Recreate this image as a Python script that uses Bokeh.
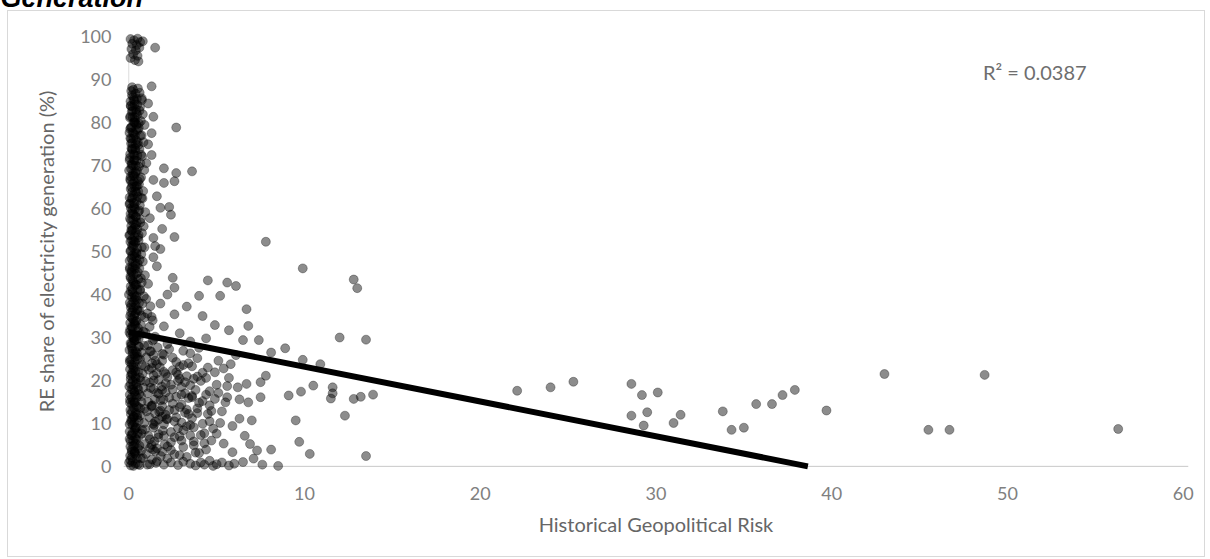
from bokeh.plotting import figure
from bokeh.models import Span, Label, ColumnDataSource, FixedTicker, Range1d
from bokeh.embed import file_html
from bokeh.resources import INLINE

# ---------------- data ----------------
x_ticks = [0, 10, 20, 30, 40, 50, 60]
y_ticks = [0, 10, 20, 30, 40, 50, 60, 70, 80, 90, 100]

# dense column of observations near zero risk
col_a_x = [0.12,0.21,0.08,0.17,0.26,0.10,0.19,0.05,0.23,0.14,
           0.28,0.09,0.18,0.24,0.06,0.15,0.27,0.11,0.20,0.07,
           0.25,0.13,0.22,0.04,0.16,0.29,0.10,0.19,0.08,0.24,
           0.13,0.27,0.06,0.18,0.21,0.11,0.26,0.09,0.15,0.23,
           0.05,0.20,0.12,0.28,0.17,0.07,0.22,0.14,0.25,0.10,
           0.19,0.04,0.16,0.27,0.11,0.21,0.08,0.24,0.13,0.18,
           0.06,0.26,0.15,0.20,0.09,0.23,0.12,0.28,0.07,0.17,
           0.22,0.10,0.25,0.14,0.19]
col_a_y = [0.2,1.1,2.5,3.4,4.8,5.9,7.2,8.1,9.6,10.8,
           11.7,13.1,14.4,15.2,16.7,17.9,18.8,20.3,21.4,22.6,
           23.5,24.9,26.2,27.1,28.6,29.8,30.7,32.2,33.4,34.3,
           35.8,36.9,38.1,39.4,40.5,41.9,43.0,44.2,45.5,46.4,
           47.9,49.1,50.2,51.6,52.7,53.9,55.1,56.0,57.4,58.8,
           59.7,61.1,62.3,63.2,64.6,65.8,66.9,68.2,69.3,70.5,
           71.8,72.7,74.1,75.3,76.4,77.8,78.9,80.1,81.2,82.6,
           83.7,85.0,86.1,87.4,88.3]

col_b_x = [0.38,0.47,0.33,0.52,0.41,0.36,0.50,0.44,0.31,0.49,
           0.40,0.54,0.35,0.46,0.32,0.51,0.43,0.37,0.53,0.42,
           0.34,0.48,0.39,0.55,0.30,0.45,0.50,0.36,0.44,0.33,
           0.52,0.40,0.47,0.31,0.49,0.38,0.54,0.42,0.35,0.51,
           0.43,0.32,0.48,0.37,0.53,0.41,0.34,0.46,0.39,0.55,
           0.30,0.45,0.50,0.36,0.43,0.52,0.33,0.47,0.40,0.31,
           0.49,0.38,0.54,0.42,0.35,0.51,0.44,0.37,0.48,0.41,
           0.33,0.46,0.39,0.52]
col_b_y = [0.6,1.8,3.0,4.1,5.3,6.6,7.7,9.0,10.2,11.3,
           12.5,13.8,14.9,16.1,17.3,18.4,19.6,20.9,22.0,23.1,
           24.3,25.6,26.8,27.9,29.2,30.3,31.5,32.8,33.9,35.1,
           36.3,37.5,38.7,39.9,41.1,42.4,43.6,44.8,46.0,47.2,
           48.5,49.6,50.8,52.1,53.3,54.5,55.6,56.8,58.1,59.3,
           60.4,61.7,62.9,64.0,65.2,66.4,67.6,68.8,70.0,71.2,
           72.4,73.5,74.8,76.0,77.1,78.3,79.6,80.7,81.9,83.1,
           84.3,85.6,86.8,88.0]

col_c_x = [0.62,0.81,0.70,0.93,0.58,0.76,0.87,0.66,0.90,0.73,
           0.59,0.84,0.68,0.79,0.95,0.64,0.72,0.88,0.57,0.83,
           0.69,0.91,0.61,0.77,0.86,0.65,0.74,0.92,0.60,0.80,
           0.71,0.89,0.56,0.75,0.85,0.67,0.94,0.63,0.78,0.82,
           0.58,0.70,0.88,0.66,0.76,0.61,0.84,0.73,0.57,0.69,
           0.80,0.64,0.75,0.62]
col_c_y = [0.3,1.9,3.6,5.2,6.9,8.5,10.1,11.9,13.4,15.0,
           16.8,18.3,20.0,21.6,23.2,24.9,26.5,28.1,29.8,31.4,
           33.0,34.7,36.2,37.9,39.6,41.2,42.8,44.5,46.1,47.7,
           49.4,51.0,52.6,54.3,55.9,57.5,59.2,60.8,62.4,64.1,
           65.7,67.3,69.0,70.6,72.2,73.9,75.5,77.1,78.8,80.4,
           82.0,83.7,85.3,87.0]

col_d_x = [1.05,1.32,0.98,1.21,1.45,1.12,0.93,1.38,1.17,1.02,
           1.29,1.48,1.08,1.24,0.96,1.41,1.15,1.33,1.00,1.26,
           1.10,1.44,0.95,1.19,1.36,1.06,1.23,0.99]
col_d_y = [0.4,1.6,2.9,4.3,5.8,7.1,8.6,9.9,11.4,12.8,
           14.1,15.6,17.0,18.3,19.8,21.2,22.5,24.0,25.4,26.8,
           28.2,29.6,31.1,32.5,34.0,35.6,37.3,39.0]

col_e_x = [0.02,0.18,0.31,0.09,0.25,0.14,0.34,0.05,0.21,0.12,
           0.29,0.07,0.16,0.33,0.03,0.23,0.11,0.27,0.15,0.06,
           0.32,0.19,0.10,0.26,0.04,0.17,0.30,0.08,0.22,0.13,
           0.35,0.01,0.20,0.28,0.11,0.16,0.06,0.24,0.33,0.09,
           0.18,0.27,0.03,0.14,0.31,0.07,0.22,0.12,0.29,0.05,
           0.19,0.34,0.10,0.25,0.02,0.15,0.30,0.08,0.21,0.13,
           0.26,0.04,0.17,0.32,0.09,0.23,0.11,0.28]
col_e_y = [0.9,2.1,3.5,4.6,6.0,7.3,8.5,9.8,11.1,12.2,
           13.6,14.8,16.0,17.4,18.6,19.9,21.1,22.4,23.7,24.8,
           26.1,27.5,28.7,29.9,31.2,32.5,33.7,35.0,36.2,37.6,
           38.8,40.0,41.3,42.6,43.8,45.1,46.3,47.6,48.8,50.1,
           51.4,52.5,53.8,55.0,56.4,57.7,58.9,60.1,61.4,62.6,
           63.9,65.1,66.5,67.7,68.9,70.2,71.4,72.7,73.9,75.2,
           76.4,77.7,79.0,80.2,81.5,82.8,84.0,85.4]

col_f_x = [1.55,1.82,1.38,2.05,1.67,1.94,1.46,2.15,1.73,1.35,
           1.98,1.60,1.88,1.42,2.10,1.77,1.51,1.91,1.64,1.36]
col_f_y = [0.8,2.4,3.9,5.1,6.7,8.3,9.6,11.0,12.7,14.2,
           15.5,17.1,18.6,20.0,21.5,23.1,24.6,26.2,27.7,29.3]

col_g_x = [0.27,0.09,0.41,0.16,0.33,0.05,0.22,0.38,0.13,0.30,
           0.19,0.44,0.07,0.35,0.24,0.11,0.40,0.17,0.29,0.06,
           0.36,0.21,0.14,0.43,0.26,0.08,0.32,0.18,0.39,0.12,
           0.25,0.45,0.10,0.34,0.20,0.28,0.06,0.37,0.15,0.42,
           0.23,0.09,0.31,0.17,0.40,0.13,0.27,0.35,0.07,0.21,
           0.44,0.16,0.30,0.11,0.38,0.24,0.05,0.33,0.19,0.41,
           0.14,0.28,0.08,0.36,0.22,0.43,0.12,0.32,0.18,0.26]
col_g_y = [0.1,1.4,2.8,3.9,5.1,6.4,7.8,8.9,10.3,11.5,
           12.8,14.0,15.5,16.6,17.9,19.2,20.5,21.7,23.0,24.3,
           25.5,26.9,28.1,29.4,30.6,31.9,33.2,34.6,35.7,37.0,
           38.3,39.6,40.8,42.1,43.4,44.6,45.9,47.3,48.4,49.8,
           51.0,52.3,53.5,54.8,56.2,57.3,58.6,60.0,61.2,62.5,
           63.7,65.0,66.3,67.5,68.6,70.1,71.3,72.5,73.8,75.0,
           76.3,77.5,78.6,80.0,81.3,82.4,83.9,85.2,86.4,87.7]

col_h_x = [0.52,0.68,0.35,0.61,0.44,0.73,0.39,0.57,0.48,0.65,
           0.31,0.70,0.55,0.42,0.63,0.37,0.75,0.50,0.46,0.59,
           0.33,0.67,0.53,0.40,0.72,0.47,0.58,0.36,0.64,0.43,
           0.69,0.51,0.38,0.62,0.45,0.74,0.34,0.56,0.49,0.66,
           0.41,0.60,0.32,0.71,0.54,0.47,0.63,0.39,0.58,0.44,
           0.70,0.36,0.52,0.65,0.42,0.57,0.33,0.61,0.48,0.74]
col_h_y = [0.5,1.9,3.3,4.8,6.2,7.6,9.1,10.6,12.0,13.5,
           14.9,16.3,17.8,19.2,20.7,22.1,23.6,25.0,26.4,27.9,
           29.3,30.8,32.2,33.7,35.1,36.5,38.0,39.4,40.9,42.3,
           43.8,45.2,46.7,48.1,49.5,51.0,52.4,53.9,55.3,56.8,
           58.2,59.6,61.1,62.5,64.0,65.4,66.9,68.3,69.8,71.2,
           72.6,74.1,75.5,77.0,78.4,79.9,81.3,82.8,84.2,85.7]

top_x = [0.10,0.30,0.50,0.20,0.45,0.65,0.15,0.40,0.60,0.25,0.50,0.10,0.35,0.55,0.80]
top_y = [99.5,99.2,99.6,98.4,98.1,98.8,97.2,96.9,97.5,96.0,95.6,95.1,94.6,94.3,99.0]

# scattered observations at low / moderate risk
spread_x = [7.8,4.5,5.6,6.1,2.5,1.6,4.0,5.2,2.6,6.7,4.2,4.9,5.7,6.8,2.6,6.5,7.4,8.1,8.9,3.9,
            5.8,2.2,3.1,5.1,4.9,7.8,7.5,6.7,6.2,5.6,4.9,9.1,6.8,7.5,6.3,7.0,4.5,4.2,8.1,7.3,
            7.1,3.7,3.0,2.4,4.7,5.4,4.3,5.0,1.3,1.7,2.0,1.5,2.3,1.8,2.7,1.4,2.1,3.0,1.6,2.5,
            3.3,1.9,2.9,3.4,3.6,2.6,3.1,3.8,4.1,3.6,4.4,1.2,1.5,2.0,1.3,1.8,2.9,3.5,4.0,4.6,
            5.3,5.9,6.6,5.7,6.1,4.4,3.3,2.2,1.1,1.4,1.9,1.2,1.6,1.3,1.1,1.8,2.3,1.5,1.3,1.4,
            2.7,1.3,2.0,2.7,3.6,1.4,2.0,2.6,1.8,2.4,2.6,1.4,1.5,1.0,1.1,0.9,
            1.4,1.9,2.5,1.7,2.2,2.8,3.2,2.4,1.3,1.6,2.0,3.9,3.5,2.7,4.6,5.5,1.2,1.5,2.9,3.7,
            2.4,3.1,3.8,4.3,2.9,3.5,4.8,5.2,2.1,2.7,3.3,4.0,4.6,5.6,3.0,2.5,3.7,4.2,5.0,1.9,
            2.8,3.4,4.5,3.9,2.3,3.2,4.7,5.4,2.0,2.6,3.6,4.1,1.7,2.2,3.0,3.5,4.4,5.1,2.9,6.3,
            1.2,1.5,1.8,2.1,2.4,2.7,3.0,3.3,3.6,3.9,1.3,1.6,1.9,2.2,2.5,2.8,3.1,3.4,3.7,4.2,
            1.1,1.4,1.7,2.0,2.3,2.6,2.9,3.2,3.5,4.4]
spread_y = [52.3,43.3,42.8,42.0,43.9,46.6,39.7,39.7,41.6,36.6,35.0,32.9,31.7,32.7,35.4,29.4,29.4,26.5,27.5,25.2,
            23.8,28.5,26.9,24.6,21.9,21.1,19.6,19.2,18.4,16.1,15.7,16.5,14.9,16.1,11.1,10.7,12.2,9.9,3.9,3.7,
            1.8,4.9,6.0,5.6,6.0,5.3,7.7,7.6,5.0,7.5,9.8,12.3,13.1,15.4,16.2,18.0,19.3,18.5,21.7,22.4,
            21.0,24.6,13.8,15.9,11.2,10.5,8.4,17.8,19.9,23.3,16.7,26.8,30.2,32.6,34.8,37.9,31.0,29.1,27.6,14.2,
            12.8,9.4,7.1,20.6,25.9,29.8,37.2,40.0,42.5,48.7,55.3,57.8,62.9,72.5,75.0,50.6,60.4,97.5,88.5,81.4,
            78.9,77.6,69.4,68.3,68.7,66.7,66.0,66.4,60.2,58.6,53.4,53.2,51.3,70.6,84.5,79.5,
            9.0,11.6,14.6,16.9,20.8,19.9,12.5,8.0,13.9,23.8,26.0,13.5,7.2,24.3,10.5,14.9,19.5,3.5,2.6,9.1,
            3.8,4.5,3.2,5.4,7.0,9.6,8.8,10.1,12.0,11.4,13.2,14.8,17.5,18.7,16.7,17.9,20.4,21.8,19.0,14.0,
            21.3,24.0,23.0,12.4,16.0,19.6,12.9,22.8,22.0,6.8,16.4,7.3,10.9,4.6,10.2,18.9,20.6,17.1,23.2,15.6,
            6.3,10.4,13.0,17.2,19.0,21.9,14.4,9.3,16.1,20.9,22.9,4.2,17.8,11.0,25.3,8.9,23.6,12.2,5.8,15.2,
            15.0,25.9,20.1,7.1,27.3,13.1,20.4,17.0,26.3,3.9]

# observations lying on / near the zero line
floor_x = [1.2,1.6,2.0,2.4,2.8,3.1,3.5,3.8,4.1,4.3,4.6,5.0,5.3,5.7,6.0,6.5,7.6,4.8,2.2,3.3,
           8.5,1.9,2.6,4.0,5.9,6.9]
floor_y = [0.5,1.2,0.4,0.9,0.3,1.1,0.6,0.2,0.9,0.4,1.3,0.5,0.9,0.2,0.6,1.0,0.4,0.1,1.8,2.2,
           0.1,3.4,2.8,3.1,3.3,5.2]

# higher risk observations
far_x = [9.9,12.8,13.0,12.0,13.5,9.9,10.9,10.5,9.8,11.6,11.6,11.5,12.8,13.2,13.9,12.3,9.5,9.7,10.3,13.5,
         22.1,24.0,25.3,28.6,29.2,30.1,28.6,29.5,29.3,31.0,31.4,33.8,34.3,35.0,35.7,36.6,37.2,37.9,39.7,
         43.0,45.5,46.7,48.7,56.3]
far_y = [46.1,43.5,41.5,30.0,29.5,24.8,23.8,18.8,17.4,18.4,17.0,15.8,15.7,16.2,16.7,11.8,10.7,5.7,2.9,2.4,
         17.6,18.4,19.7,19.2,16.6,17.2,11.8,12.6,9.5,10.1,12.0,12.8,8.5,9.0,14.5,14.5,16.6,17.8,13.0,
         21.5,8.5,8.5,21.3,8.7]

# linear trend line (y = a + b x) and its R²
trend_intercept = 31.3
trend_slope = -0.81
r_squared_text = "R\u00b2 = 0.0387"

# ---------------- figure ----------------
xs = (col_a_x + col_b_x + col_c_x + col_d_x + col_e_x + col_f_x + col_g_x + col_h_x
      + top_x + spread_x + floor_x + far_x)
ys = (col_a_y + col_b_y + col_c_y + col_d_y + col_e_y + col_f_y + col_g_y + col_h_y
      + top_y + spread_y + floor_y + far_y)
src = ColumnDataSource(dict(x=xs, y=ys))

FONT = "Lato"
BORDER = "#d9d9d9"
p = figure(width=1210, height=559, output_backend="svg", toolbar_location=None,
           x_range=Range1d(-0.3, 60.3), y_range=Range1d(-1.2, 101.5),
           min_border_left=123, min_border_right=22, min_border_top=28, min_border_bottom=88)
p.border_fill_color = None
p.background_fill_color = None
g = f"linear-gradient({BORDER},{BORDER})"
p.styles = {"background": (f"{g} 7px 10px / 1198px 1px no-repeat, "
                           f"{g} 7px 10px / 1px 547px no-repeat, "
                           f"{g} 1204px 10px / 1px 547px no-repeat, "
                           f"{g} 7px 556px / 1198px 1px no-repeat, #ffffff")}
p.outline_line_color = None
p.grid.visible = False

for ax in (p.xaxis[0], p.yaxis[0]):
    ax.axis_line_color = None
    ax.major_tick_line_color = None
    ax.minor_tick_line_color = None
    ax.major_tick_out = 0
    ax.major_tick_in = 0
    ax.minor_tick_out = 0
    ax.major_label_text_font = FONT
    ax.major_label_text_font_size = "18px"
    ax.major_label_text_color = "#808080"
    ax.axis_label_text_font = FONT
    ax.axis_label_text_font_size = "20px"
    ax.axis_label_text_font_style = "normal"
    ax.axis_label_text_color = "#666666"

p.xaxis.ticker = FixedTicker(ticks=x_ticks)
p.yaxis.ticker = FixedTicker(ticks=y_ticks)
p.xaxis.axis_label = "Historical Geopolitical Risk"
p.yaxis.axis_label = "RE share of electricity generation (%)"
p.xaxis.major_label_standoff = 15
p.xaxis.axis_label_standoff = 9
p.yaxis.major_label_standoff = 12
p.yaxis.axis_label_standoff = 19

# axis lines at zero
p.add_layout(Span(location=0, dimension="width", line_color="#c8c8c8", line_width=1, level="underlay"))
p.segment(x0=x_ticks[0], y0=y_ticks[0], x1=x_ticks[0], y1=y_ticks[-1],
          line_color="#dcdcdc", line_width=1, level="underlay")

p.scatter("x", "y", source=src, size=9, marker="circle",
          fill_color="black", fill_alpha=0.45, line_color="black", line_alpha=0.3, line_width=1)

trend_x = [0, -trend_intercept / trend_slope]
trend_y = [trend_intercept + trend_slope * v for v in trend_x]
p.line(trend_x, trend_y, line_color="black", line_width=6)

p.add_layout(Label(x=48.6, y=91.9, text=r_squared_text, text_font=FONT,
                   text_font_size="20px", text_color="#6e6e6e", text_baseline="alphabetic"))

# cut-off heading above the chart area (placed in the top side panel so it is not clipped)
p.add_layout(Label(x=-123, y=33, x_units="screen", y_units="screen", text="Generation",
                   text_font="Liberation Sans", text_font_size="27px", text_baseline="alphabetic",
                   text_font_style="bold italic", text_color="black"), "above")

open("out.html", "w").write(file_html(p, INLINE))
